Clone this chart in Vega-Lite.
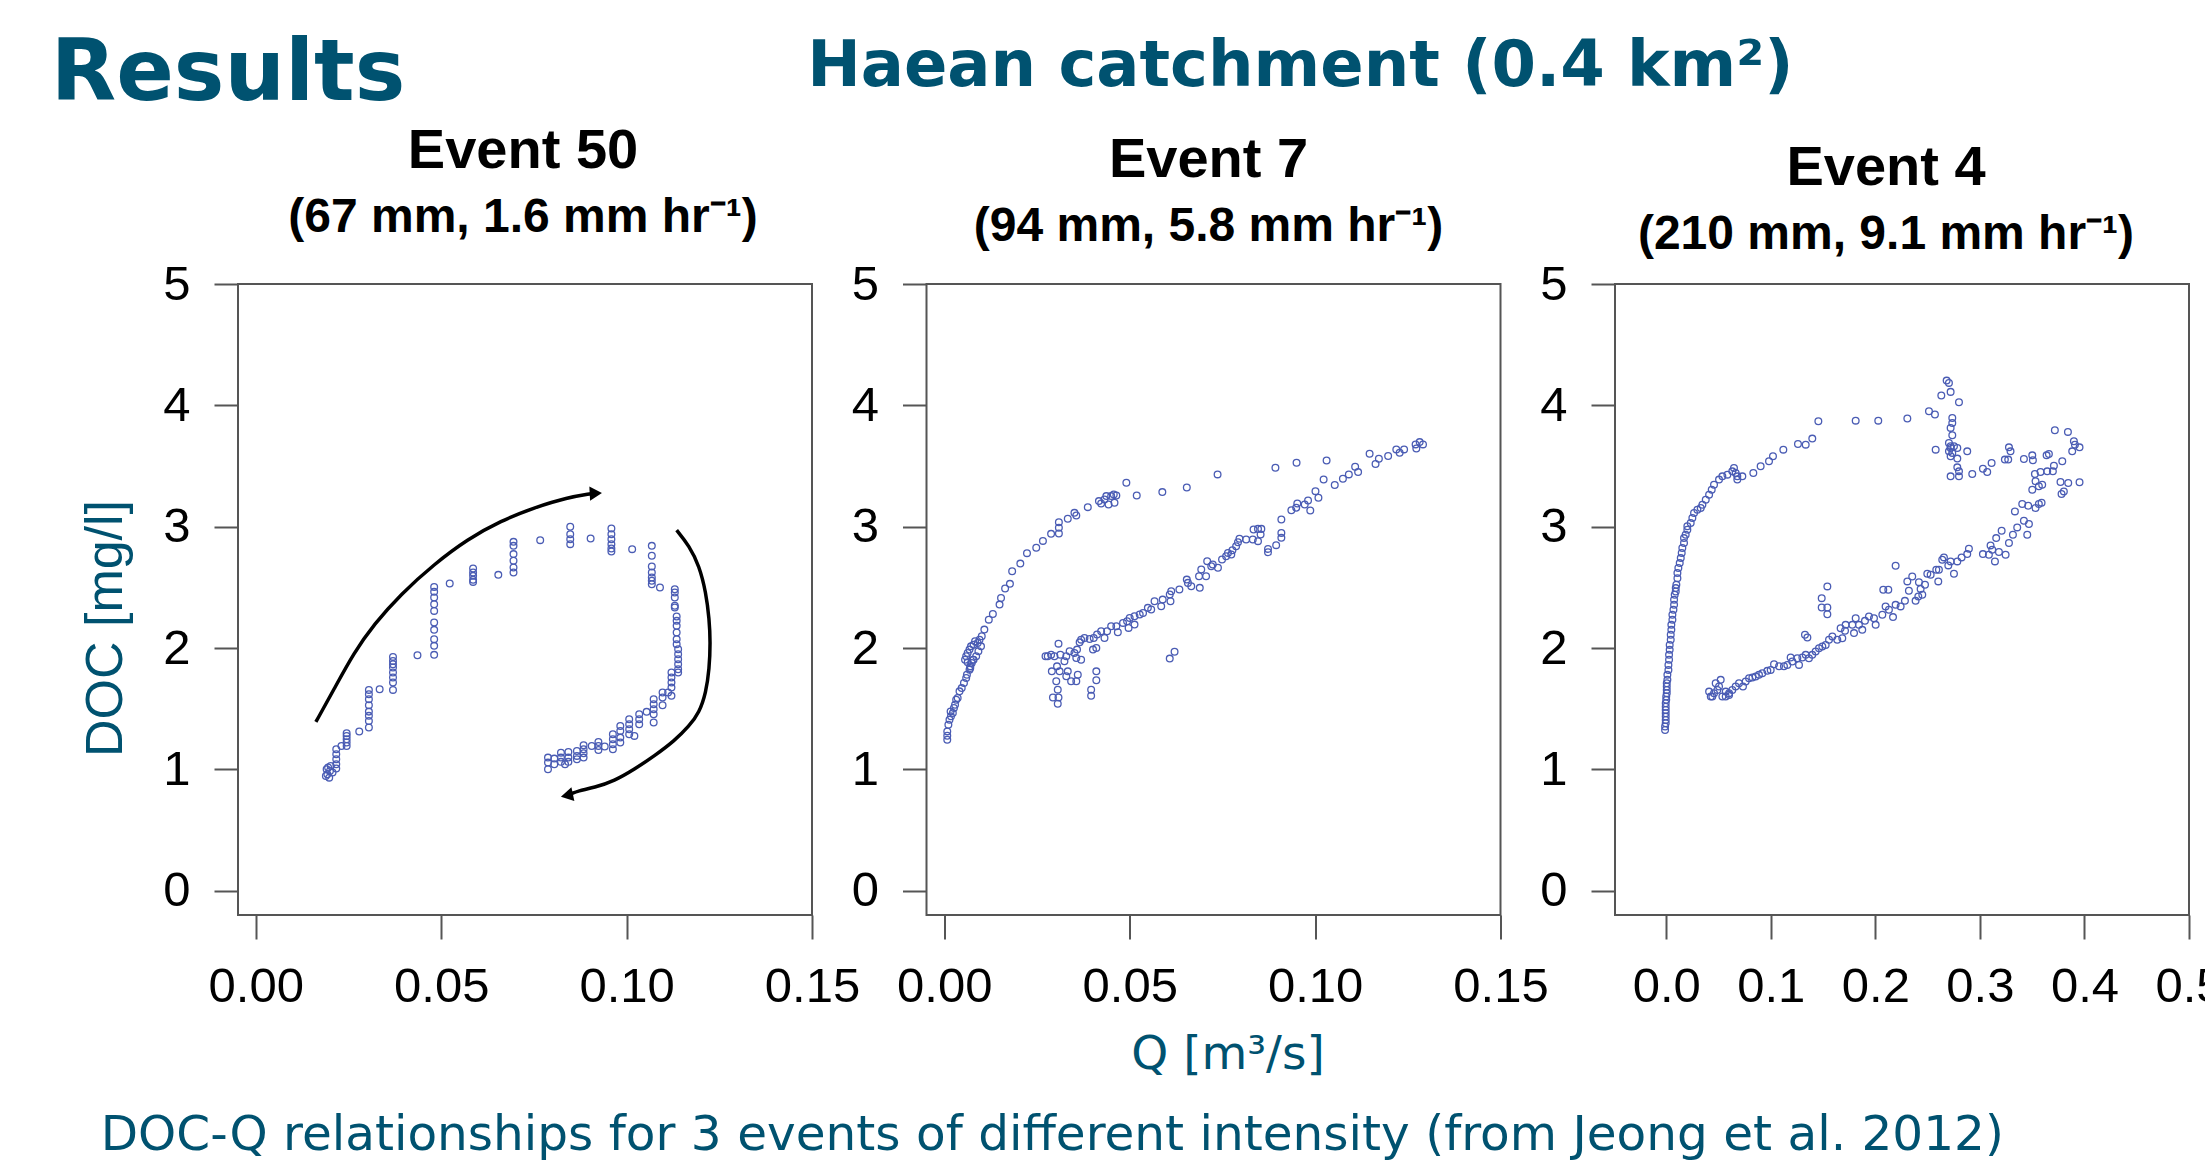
{
"$schema": "https://vega.github.io/schema/vega-lite/v6.json",
"background": "white",
"padding": {"left": 50, "top": 32, "right": 0, "bottom": 0},
"autosize": {"type": "pad"},
"config": {
  "view": {"stroke": "#555555", "strokeWidth": 2},
  "axis": {"domain": false, "grid": false, "ticks": true, "tickColor": "#555555", "tickWidth": 2, "tickSize": 24, "labelFont": "Liberation Sans", "labelFontSize": 49, "labelColor": "#000000", "labelOverlap": false, "labelBound": false},
  "axisX": {"labelFlush": false, "labelPadding": 23, "titlePadding": 20},
  "axisY": {"labelPadding": 24},
  "title": {"font": "Liberation Sans", "fontSize": 56, "fontWeight": "bold", "color": "#000000", "subtitleFont": "Liberation Sans", "subtitleFontSize": 48, "subtitleFontWeight": "bold", "subtitleColor": "#000000", "subtitlePadding": 14, "anchor": "middle", "frame": "group"}
},
"datasets": {
"e50": [
{"Q":0.0189,"DOC":0.946},{"Q":0.0193,"DOC":0.960},{"Q":0.0198,"DOC":0.932},{"Q":0.0191,"DOC":1.001},{"Q":0.0195,"DOC":1.015},{"Q":0.0202,"DOC":1.028},{"Q":0.0200,"DOC":0.987},{"Q":0.0207,"DOC":0.974},
{"Q":0.0217,"DOC":1.166},{"Q":0.0217,"DOC":1.125},{"Q":0.0217,"DOC":1.083},{"Q":0.0217,"DOC":1.042},{"Q":0.0217,"DOC":1.007},
{"Q":0.0231,"DOC":1.193},
{"Q":0.0245,"DOC":1.298},{"Q":0.0245,"DOC":1.276},{"Q":0.0245,"DOC":1.248},{"Q":0.0245,"DOC":1.221},{"Q":0.0245,"DOC":1.193},
{"Q":0.0279,"DOC":1.312},
{"Q":0.0305,"DOC":1.655},{"Q":0.0305,"DOC":1.619},{"Q":0.0305,"DOC":1.578},{"Q":0.0305,"DOC":1.529},{"Q":0.0305,"DOC":1.476},{"Q":0.0305,"DOC":1.441},{"Q":0.0305,"DOC":1.399},{"Q":0.0305,"DOC":1.345},
{"Q":0.0334,"DOC":1.661},
{"Q":0.0370,"DOC":1.927},{"Q":0.0370,"DOC":1.894},{"Q":0.0370,"DOC":1.867},{"Q":0.0370,"DOC":1.839},{"Q":0.0370,"DOC":1.798},{"Q":0.0370,"DOC":1.757},{"Q":0.0370,"DOC":1.716},{"Q":0.0370,"DOC":1.655},
{"Q":0.0436,"DOC":1.941},
{"Q":0.0481,"DOC":2.504},{"Q":0.0481,"DOC":2.463},{"Q":0.0481,"DOC":2.416},{"Q":0.0481,"DOC":2.361},{"Q":0.0481,"DOC":2.306},{"Q":0.0481,"DOC":2.210},{"Q":0.0481,"DOC":2.150},{"Q":0.0481,"DOC":2.073},{"Q":0.0481,"DOC":2.018},{"Q":0.0481,"DOC":1.944},
{"Q":0.0523,"DOC":2.532},
{"Q":0.0586,"DOC":2.655},{"Q":0.0586,"DOC":2.622},{"Q":0.0586,"DOC":2.595},{"Q":0.0586,"DOC":2.562},{"Q":0.0586,"DOC":2.545},
{"Q":0.0654,"DOC":2.603},
{"Q":0.0695,"DOC":2.875},{"Q":0.0695,"DOC":2.842},{"Q":0.0695,"DOC":2.774},{"Q":0.0695,"DOC":2.719},{"Q":0.0695,"DOC":2.664},{"Q":0.0695,"DOC":2.622},
{"Q":0.0767,"DOC":2.889},
{"Q":0.0848,"DOC":2.999},{"Q":0.0848,"DOC":2.938},{"Q":0.0848,"DOC":2.897},{"Q":0.0848,"DOC":2.856},
{"Q":0.0903,"DOC":2.903},
{"Q":0.0959,"DOC":2.985},{"Q":0.0959,"DOC":2.938},{"Q":0.0959,"DOC":2.897},{"Q":0.0959,"DOC":2.856},{"Q":0.0959,"DOC":2.820},{"Q":0.0959,"DOC":2.795},
{"Q":0.1015,"DOC":2.815},
{"Q":0.1068,"DOC":2.842},{"Q":0.1068,"DOC":2.760},{"Q":0.1068,"DOC":2.672},{"Q":0.1068,"DOC":2.622},{"Q":0.1068,"DOC":2.581},{"Q":0.1068,"DOC":2.554},{"Q":0.1068,"DOC":2.526},
{"Q":0.1090,"DOC":2.499},
{"Q":0.1130,"DOC":2.485},{"Q":0.1130,"DOC":2.458},{"Q":0.1130,"DOC":2.416},{"Q":0.1130,"DOC":2.348},{"Q":0.1130,"DOC":2.334},
{"Q":0.1135,"DOC":2.260},{"Q":0.1135,"DOC":2.224},{"Q":0.1135,"DOC":2.183},{"Q":0.1135,"DOC":2.128},{"Q":0.1135,"DOC":2.073},{"Q":0.1135,"DOC":2.032},
{"Q":0.1139,"DOC":1.990},{"Q":0.1139,"DOC":1.949},{"Q":0.1139,"DOC":1.908},{"Q":0.1139,"DOC":1.867},{"Q":0.1139,"DOC":1.825},{"Q":0.1139,"DOC":1.798},
{"Q":0.1121,"DOC":1.798},{"Q":0.1121,"DOC":1.757},{"Q":0.1121,"DOC":1.716},{"Q":0.1121,"DOC":1.674},{"Q":0.1121,"DOC":1.606},
{"Q":0.1112,"DOC":1.633},
{"Q":0.1097,"DOC":1.633},{"Q":0.1097,"DOC":1.592},{"Q":0.1097,"DOC":1.529},
{"Q":0.1073,"DOC":1.578},{"Q":0.1073,"DOC":1.537},{"Q":0.1073,"DOC":1.496},{"Q":0.1073,"DOC":1.455},{"Q":0.1073,"DOC":1.386},
{"Q":0.1054,"DOC":1.474},
{"Q":0.1034,"DOC":1.455},{"Q":0.1034,"DOC":1.413},{"Q":0.1034,"DOC":1.372},
{"Q":0.1021,"DOC":1.276},
{"Q":0.1007,"DOC":1.413},{"Q":0.1007,"DOC":1.372},{"Q":0.1007,"DOC":1.331},{"Q":0.1007,"DOC":1.290},
{"Q":0.0983,"DOC":1.358},{"Q":0.0983,"DOC":1.317},{"Q":0.0983,"DOC":1.262},{"Q":0.0983,"DOC":1.221},
{"Q":0.0963,"DOC":1.290},{"Q":0.0963,"DOC":1.248},{"Q":0.0963,"DOC":1.207},{"Q":0.0963,"DOC":1.166},
{"Q":0.0941,"DOC":1.188},
{"Q":0.0924,"DOC":1.226},{"Q":0.0924,"DOC":1.193},{"Q":0.0924,"DOC":1.160},
{"Q":0.0906,"DOC":1.193},
{"Q":0.0884,"DOC":1.199},{"Q":0.0884,"DOC":1.166},{"Q":0.0884,"DOC":1.133},{"Q":0.0884,"DOC":1.097},
{"Q":0.0866,"DOC":1.152},{"Q":0.0866,"DOC":1.111},{"Q":0.0866,"DOC":1.083},
{"Q":0.0843,"DOC":1.144},{"Q":0.0843,"DOC":1.097},{"Q":0.0843,"DOC":1.062},
{"Q":0.0834,"DOC":1.042},
{"Q":0.0823,"DOC":1.138},{"Q":0.0823,"DOC":1.097},{"Q":0.0823,"DOC":1.062},
{"Q":0.0805,"DOC":1.042},{"Q":0.0805,"DOC":1.089},
{"Q":0.0788,"DOC":1.097},{"Q":0.0788,"DOC":1.056},{"Q":0.0788,"DOC":1.001}
],
"arrows": [
{"arrow":1,"i":0,"Q":0.0162,"DOC":1.391},{"arrow":1,"i":1,"Q":0.0211,"DOC":1.661},{"arrow":1,"i":2,"Q":0.0265,"DOC":1.963},{"arrow":1,"i":3,"Q":0.0319,"DOC":2.196},{"arrow":1,"i":4,"Q":0.0391,"DOC":2.444},{"arrow":1,"i":5,"Q":0.0481,"DOC":2.691},{"arrow":1,"i":6,"Q":0.0571,"DOC":2.897},{"arrow":1,"i":7,"Q":0.0661,"DOC":3.048},{"arrow":1,"i":8,"Q":0.0751,"DOC":3.158},{"arrow":1,"i":9,"Q":0.0841,"DOC":3.241},{"arrow":1,"i":10,"Q":0.0905,"DOC":3.272},
{"arrow":2,"i":0,"Q":0.1135,"DOC":2.971},{"arrow":2,"i":1,"Q":0.1169,"DOC":2.842},{"arrow":2,"i":2,"Q":0.1196,"DOC":2.677},{"arrow":2,"i":3,"Q":0.1214,"DOC":2.458},{"arrow":2,"i":4,"Q":0.1223,"DOC":2.238},{"arrow":2,"i":5,"Q":0.1226,"DOC":2.045},{"arrow":2,"i":6,"Q":0.1223,"DOC":1.825},{"arrow":2,"i":7,"Q":0.1214,"DOC":1.633},{"arrow":2,"i":8,"Q":0.1196,"DOC":1.468},{"arrow":2,"i":9,"Q":0.1169,"DOC":1.358},{"arrow":2,"i":10,"Q":0.1129,"DOC":1.235},{"arrow":2,"i":11,"Q":0.1075,"DOC":1.111},{"arrow":2,"i":12,"Q":0.1021,"DOC":1.001},{"arrow":2,"i":13,"Q":0.0967,"DOC":0.905},{"arrow":2,"i":14,"Q":0.0913,"DOC":0.850},{"arrow":2,"i":15,"Q":0.0868,"DOC":0.822},{"arrow":2,"i":16,"Q":0.0852,"DOC":0.800}
],
"heads": [{"arrow":1,"Q":0.0917,"DOC":3.275},{"arrow":2,"Q":0.0839,"DOC":0.785}],
"e7": [
{"Q":0.0008,"DOC":1.244},{"Q":0.0008,"DOC":1.277},{"Q":0.0008,"DOC":1.313},{"Q":0.0011,"DOC":1.368},{"Q":0.0014,"DOC":1.409},{"Q":0.0018,"DOC":1.437},{"Q":0.0017,"DOC":1.478},{"Q":0.0023,"DOC":1.464},{"Q":0.0026,"DOC":1.506},{"Q":0.0029,"DOC":1.533},{"Q":0.0032,"DOC":1.574},{"Q":0.0036,"DOC":1.588},{"Q":0.0041,"DOC":1.643},{"Q":0.0047,"DOC":1.670},{"Q":0.0053,"DOC":1.712},{"Q":0.0059,"DOC":1.753},{"Q":0.0061,"DOC":1.780},{"Q":0.0068,"DOC":1.822},{"Q":0.0070,"DOC":1.849},{"Q":0.0074,"DOC":1.877},{"Q":0.0077,"DOC":1.904},{"Q":0.0059,"DOC":1.932},{"Q":0.0063,"DOC":1.959},{"Q":0.0068,"DOC":1.987},{"Q":0.0072,"DOC":2.014},{"Q":0.0079,"DOC":2.028},{"Q":0.0083,"DOC":2.056},{"Q":0.0090,"DOC":2.042},{"Q":0.0095,"DOC":2.069},{"Q":0.0099,"DOC":2.014},{"Q":0.0092,"DOC":1.973},{"Q":0.0079,"DOC":1.904},{"Q":0.0086,"DOC":1.932},{"Q":0.0056,"DOC":1.904},{"Q":0.0063,"DOC":1.882},{"Q":0.0070,"DOC":1.836},
{"Q":0.0101,"DOC":2.097},{"Q":0.0108,"DOC":2.152},{"Q":0.0120,"DOC":2.234},{"Q":0.0131,"DOC":2.281},{"Q":0.0149,"DOC":2.358},{"Q":0.0153,"DOC":2.413},{"Q":0.0164,"DOC":2.490},{"Q":0.0177,"DOC":2.529},{"Q":0.0183,"DOC":2.633},{"Q":0.0205,"DOC":2.696},{"Q":0.0223,"DOC":2.782},{"Q":0.0248,"DOC":2.826},{"Q":0.0266,"DOC":2.883},{"Q":0.0288,"DOC":2.941},{"Q":0.0309,"DOC":2.944},{"Q":0.0309,"DOC":2.991},{"Q":0.0309,"DOC":3.037},{"Q":0.0333,"DOC":3.065},{"Q":0.0351,"DOC":3.114},{"Q":0.0356,"DOC":3.092},{"Q":0.0387,"DOC":3.161},{"Q":0.0417,"DOC":3.211},{"Q":0.0423,"DOC":3.191},{"Q":0.0432,"DOC":3.224},{"Q":0.0437,"DOC":3.252},{"Q":0.0443,"DOC":3.183},{"Q":0.0450,"DOC":3.252},{"Q":0.0459,"DOC":3.197},{"Q":0.0464,"DOC":3.257},{"Q":0.0457,"DOC":3.266},{"Q":0.0491,"DOC":3.362},{"Q":0.0519,"DOC":3.257},{"Q":0.0588,"DOC":3.285},{"Q":0.0654,"DOC":3.323},{"Q":0.0737,"DOC":3.431},{"Q":0.0893,"DOC":3.486},{"Q":0.0950,"DOC":3.527},{"Q":0.1031,"DOC":3.546},{"Q":0.1147,"DOC":3.601},{"Q":0.1172,"DOC":3.560},{"Q":0.1163,"DOC":3.516},{"Q":0.1197,"DOC":3.582},{"Q":0.1219,"DOC":3.637},{"Q":0.1228,"DOC":3.609},{"Q":0.1240,"DOC":3.637},{"Q":0.1271,"DOC":3.678},{"Q":0.1282,"DOC":3.697},{"Q":0.1291,"DOC":3.678},{"Q":0.1273,"DOC":3.645},
{"Q":0.1116,"DOC":3.450},{"Q":0.1108,"DOC":3.494},{"Q":0.1091,"DOC":3.431},{"Q":0.1075,"DOC":3.395},{"Q":0.1053,"DOC":3.343},{"Q":0.1023,"DOC":3.389},{"Q":0.1009,"DOC":3.238},{"Q":0.1001,"DOC":3.293},{"Q":0.0987,"DOC":3.134},{"Q":0.0981,"DOC":3.216},{"Q":0.0972,"DOC":3.183},{"Q":0.0952,"DOC":3.191},{"Q":0.0949,"DOC":3.156},{"Q":0.0936,"DOC":3.136},{"Q":0.0909,"DOC":3.059},{"Q":0.0909,"DOC":2.949},{"Q":0.0909,"DOC":2.908},{"Q":0.0895,"DOC":2.848},{"Q":0.0873,"DOC":2.817},{"Q":0.0873,"DOC":2.790},{"Q":0.0855,"DOC":2.982},{"Q":0.0853,"DOC":2.936},{"Q":0.0846,"DOC":2.982},{"Q":0.0834,"DOC":2.977},{"Q":0.0846,"DOC":2.881},{"Q":0.0832,"DOC":2.894},{"Q":0.0814,"DOC":2.894},{"Q":0.0796,"DOC":2.900},{"Q":0.0792,"DOC":2.872},{"Q":0.0787,"DOC":2.839},{"Q":0.0777,"DOC":2.806},{"Q":0.0774,"DOC":2.771},{"Q":0.0765,"DOC":2.784},{"Q":0.0760,"DOC":2.757},{"Q":0.0749,"DOC":2.729},{"Q":0.0738,"DOC":2.661},{"Q":0.0724,"DOC":2.688},{"Q":0.0709,"DOC":2.716},{"Q":0.0720,"DOC":2.674},{"Q":0.0706,"DOC":2.592},{"Q":0.0693,"DOC":2.647},{"Q":0.0687,"DOC":2.592},{"Q":0.0689,"DOC":2.496},{"Q":0.0666,"DOC":2.509},{"Q":0.0654,"DOC":2.564},{"Q":0.0657,"DOC":2.537},{"Q":0.0634,"DOC":2.482},{"Q":0.0612,"DOC":2.468},{"Q":0.0608,"DOC":2.441},{"Q":0.0610,"DOC":2.386},{"Q":0.0589,"DOC":2.399},{"Q":0.0585,"DOC":2.344},{"Q":0.0567,"DOC":2.386},{"Q":0.0558,"DOC":2.317},{"Q":0.0549,"DOC":2.331},{"Q":0.0536,"DOC":2.289},{"Q":0.0527,"DOC":2.276},{"Q":0.0513,"DOC":2.262},{"Q":0.0500,"DOC":2.248},{"Q":0.0493,"DOC":2.221},{"Q":0.0513,"DOC":2.193},{"Q":0.0497,"DOC":2.166},{"Q":0.0482,"DOC":2.207},{"Q":0.0468,"DOC":2.130},{"Q":0.0464,"DOC":2.179},{"Q":0.0450,"DOC":2.179},{"Q":0.0439,"DOC":2.138},{"Q":0.0432,"DOC":2.083},{"Q":0.0423,"DOC":2.138},{"Q":0.0412,"DOC":2.111},{"Q":0.0403,"DOC":2.083},{"Q":0.0392,"DOC":2.075},{"Q":0.0378,"DOC":2.083},{"Q":0.0369,"DOC":2.069},{"Q":0.0365,"DOC":2.047},{"Q":0.0410,"DOC":2.001},{"Q":0.0401,"DOC":1.987},{"Q":0.0369,"DOC":1.904},{"Q":0.0356,"DOC":1.918},{"Q":0.0358,"DOC":1.987},{"Q":0.0351,"DOC":1.959},{"Q":0.0338,"DOC":1.973},{"Q":0.0329,"DOC":1.932},{"Q":0.0324,"DOC":1.891},{"Q":0.0313,"DOC":1.945},{"Q":0.0308,"DOC":2.036},{"Q":0.0297,"DOC":1.932},{"Q":0.0288,"DOC":1.945},{"Q":0.0279,"DOC":1.932},{"Q":0.0273,"DOC":1.932},{"Q":0.0304,"DOC":1.849},{"Q":0.0290,"DOC":1.808},{"Q":0.0311,"DOC":1.808},{"Q":0.0329,"DOC":1.767},{"Q":0.0333,"DOC":1.808},{"Q":0.0342,"DOC":1.726},{"Q":0.0356,"DOC":1.726},{"Q":0.0360,"DOC":1.780},{"Q":0.0410,"DOC":1.808},{"Q":0.0410,"DOC":1.734},{"Q":0.0302,"DOC":1.726},{"Q":0.0306,"DOC":1.657},{"Q":0.0293,"DOC":1.593},{"Q":0.0308,"DOC":1.593},{"Q":0.0306,"DOC":1.541},{"Q":0.0396,"DOC":1.657},{"Q":0.0396,"DOC":1.607},{"Q":0.0608,"DOC":1.913},{"Q":0.0621,"DOC":1.970}
],
"e4": [
{"Q":-0.0011,"DOC":1.325},{"Q":-0.0011,"DOC":1.353},{"Q":-0.0005,"DOC":1.380},{"Q":-0.0005,"DOC":1.407},{"Q":-0.0005,"DOC":1.435},{"Q":-0.0005,"DOC":1.462},{"Q":-0.0005,"DOC":1.490},{"Q":-0.0005,"DOC":1.517},{"Q":-0.0005,"DOC":1.545},{"Q":0.0000,"DOC":1.573},{"Q":0.0000,"DOC":1.600},{"Q":0.0005,"DOC":1.628},{"Q":0.0005,"DOC":1.655},{"Q":0.0005,"DOC":1.683},{"Q":0.0005,"DOC":1.710},{"Q":0.0011,"DOC":1.738},{"Q":0.0011,"DOC":1.779},{"Q":0.0021,"DOC":1.820},{"Q":0.0021,"DOC":1.861},{"Q":0.0027,"DOC":1.903},{"Q":0.0027,"DOC":1.944},{"Q":0.0033,"DOC":1.985},{"Q":0.0033,"DOC":2.026},{"Q":0.0043,"DOC":2.068},{"Q":0.0043,"DOC":2.109},{"Q":0.0049,"DOC":2.150},{"Q":0.0049,"DOC":2.191},{"Q":0.0059,"DOC":2.233},{"Q":0.0059,"DOC":2.274},{"Q":0.0069,"DOC":2.315},{"Q":0.0075,"DOC":2.356},{"Q":0.0075,"DOC":2.398},{"Q":0.0081,"DOC":2.439},{"Q":0.0091,"DOC":2.466},{"Q":0.0091,"DOC":2.494},{"Q":0.0097,"DOC":2.521},{"Q":0.0107,"DOC":2.576},{"Q":0.0107,"DOC":2.618},{"Q":0.0116,"DOC":2.659},{"Q":0.0129,"DOC":2.700},{"Q":0.0139,"DOC":2.741},{"Q":0.0148,"DOC":2.783},{"Q":0.0154,"DOC":2.824},{"Q":0.0170,"DOC":2.865},{"Q":0.0170,"DOC":2.906},{"Q":0.0186,"DOC":2.934},{"Q":0.0202,"DOC":2.975},{"Q":0.0202,"DOC":3.003},{"Q":0.0234,"DOC":3.030},{"Q":0.0250,"DOC":3.071},{"Q":0.0266,"DOC":3.113},{"Q":0.0298,"DOC":3.140},{"Q":0.0330,"DOC":3.154},{"Q":0.0346,"DOC":3.181},{"Q":0.0378,"DOC":3.223},{"Q":0.0410,"DOC":3.264},{"Q":0.0435,"DOC":3.305},{"Q":0.0457,"DOC":3.346},{"Q":0.0505,"DOC":3.388},{"Q":0.0537,"DOC":3.415},{"Q":0.0585,"DOC":3.429},{"Q":0.0632,"DOC":3.456},{"Q":0.0648,"DOC":3.484},{"Q":0.0664,"DOC":3.443},{"Q":0.0680,"DOC":3.415},{"Q":0.0680,"DOC":3.388},{"Q":0.0728,"DOC":3.415},{"Q":0.0833,"DOC":3.443},{"Q":0.0903,"DOC":3.498},{"Q":0.0983,"DOC":3.539},{"Q":0.1021,"DOC":3.580},{"Q":0.1120,"DOC":3.635},{"Q":0.1260,"DOC":3.682},{"Q":0.1334,"DOC":3.676},{"Q":0.1397,"DOC":3.726},{"Q":0.1455,"DOC":3.869},{"Q":0.1812,"DOC":3.874},{"Q":0.2028,"DOC":3.874},{"Q":0.2306,"DOC":3.891},{"Q":0.2513,"DOC":3.951},{"Q":0.2570,"DOC":3.924},{"Q":0.2631,"DOC":4.081},{"Q":0.2720,"DOC":4.111},{"Q":0.2682,"DOC":4.204},{"Q":0.2704,"DOC":4.185},{"Q":0.2800,"DOC":4.026},
{"Q":0.2736,"DOC":3.896},{"Q":0.2736,"DOC":3.855},{"Q":0.2720,"DOC":3.814},{"Q":0.2736,"DOC":3.753},{"Q":0.2704,"DOC":3.690},{"Q":0.2720,"DOC":3.663},{"Q":0.2704,"DOC":3.621},{"Q":0.2736,"DOC":3.608},{"Q":0.2720,"DOC":3.580},{"Q":0.2784,"DOC":3.561},{"Q":0.2784,"DOC":3.489},{"Q":0.2800,"DOC":3.456},{"Q":0.2720,"DOC":3.415},{"Q":0.2800,"DOC":3.415},{"Q":0.2577,"DOC":3.635},{"Q":0.2879,"DOC":3.621},{"Q":0.2784,"DOC":3.649},{"Q":0.2720,"DOC":3.649},{"Q":0.2752,"DOC":3.663},
{"Q":0.2927,"DOC":3.434},{"Q":0.3029,"DOC":3.478},{"Q":0.3070,"DOC":3.451},{"Q":0.3112,"DOC":3.525},{"Q":0.3239,"DOC":3.553},{"Q":0.3271,"DOC":3.553},{"Q":0.3278,"DOC":3.654},{"Q":0.3293,"DOC":3.621},{"Q":0.3421,"DOC":3.558},{"Q":0.3501,"DOC":3.588},{"Q":0.3507,"DOC":3.547},{"Q":0.3638,"DOC":3.588},{"Q":0.3660,"DOC":3.599},{"Q":0.3717,"DOC":3.795},{"Q":0.3842,"DOC":3.781},{"Q":0.3899,"DOC":3.704},{"Q":0.3909,"DOC":3.676},{"Q":0.3953,"DOC":3.654},{"Q":0.3883,"DOC":3.621},{"Q":0.3788,"DOC":3.539},{"Q":0.3708,"DOC":3.503},{"Q":0.3698,"DOC":3.456},{"Q":0.3644,"DOC":3.456},{"Q":0.3580,"DOC":3.451},{"Q":0.3526,"DOC":3.434},{"Q":0.3532,"DOC":3.374},{"Q":0.3501,"DOC":3.305},{"Q":0.3564,"DOC":3.333},{"Q":0.3596,"DOC":3.346},{"Q":0.3771,"DOC":3.368},{"Q":0.3845,"DOC":3.360},{"Q":0.3953,"DOC":3.366},{"Q":0.3803,"DOC":3.291},{"Q":0.3781,"DOC":3.269},{"Q":0.3590,"DOC":3.198},{"Q":0.3564,"DOC":3.187},{"Q":0.3532,"DOC":3.154},{"Q":0.3462,"DOC":3.173},{"Q":0.3405,"DOC":3.187},{"Q":0.3335,"DOC":3.126},{"Q":0.3421,"DOC":3.049},{"Q":0.3469,"DOC":3.022},{"Q":0.3453,"DOC":2.934},{"Q":0.3357,"DOC":2.994},{"Q":0.3316,"DOC":2.934},{"Q":0.3278,"DOC":2.865},{"Q":0.3208,"DOC":2.967},{"Q":0.3156,"DOC":2.906},{"Q":0.3102,"DOC":2.846},{"Q":0.3118,"DOC":2.810},{"Q":0.3182,"DOC":2.791},{"Q":0.3144,"DOC":2.714},{"Q":0.3246,"DOC":2.769},{"Q":0.3086,"DOC":2.769},{"Q":0.3029,"DOC":2.774},{"Q":0.2895,"DOC":2.818},{"Q":0.2879,"DOC":2.774},{"Q":0.2825,"DOC":2.747},{"Q":0.2784,"DOC":2.714},{"Q":0.2752,"DOC":2.612},{"Q":0.2720,"DOC":2.714},{"Q":0.2698,"DOC":2.681},{"Q":0.2656,"DOC":2.747},{"Q":0.2640,"DOC":2.728},{"Q":0.2608,"DOC":2.645},{"Q":0.2602,"DOC":2.549},{"Q":0.2583,"DOC":2.645},{"Q":0.2529,"DOC":2.604},{"Q":0.2497,"DOC":2.612},{"Q":0.2475,"DOC":2.521},{"Q":0.2449,"DOC":2.439},{"Q":0.2433,"DOC":2.486},{"Q":0.2417,"DOC":2.543},{"Q":0.2411,"DOC":2.425},{"Q":0.2385,"DOC":2.389},{"Q":0.2353,"DOC":2.590},{"Q":0.2321,"DOC":2.472},{"Q":0.2306,"DOC":2.549},{"Q":0.2283,"DOC":2.389},{"Q":0.2242,"DOC":2.343},{"Q":0.2194,"DOC":2.356},{"Q":0.2169,"DOC":2.255},{"Q":0.2130,"DOC":2.315},{"Q":0.2098,"DOC":2.343},{"Q":0.2067,"DOC":2.274},{"Q":0.2003,"DOC":2.191},{"Q":0.1987,"DOC":2.246},{"Q":0.1939,"DOC":2.260},{"Q":0.1901,"DOC":2.224},{"Q":0.1875,"DOC":2.150},{"Q":0.1843,"DOC":2.191},{"Q":0.1812,"DOC":2.246},{"Q":0.1796,"DOC":2.123},{"Q":0.1780,"DOC":2.191},{"Q":0.1716,"DOC":2.191},{"Q":0.1710,"DOC":2.142},{"Q":0.1684,"DOC":2.081},{"Q":0.1668,"DOC":2.164},{"Q":0.1636,"DOC":2.068},{"Q":0.1589,"DOC":2.095},{"Q":0.1557,"DOC":2.068},{"Q":0.1525,"DOC":2.026},{"Q":0.1493,"DOC":2.013},{"Q":0.1461,"DOC":1.999},{"Q":0.1429,"DOC":1.971},{"Q":0.1397,"DOC":1.944},{"Q":0.1365,"DOC":1.916},{"Q":0.1334,"DOC":1.944},{"Q":0.1302,"DOC":1.922},{"Q":0.1270,"DOC":1.861},{"Q":0.1254,"DOC":1.916},{"Q":0.1206,"DOC":1.889},{"Q":0.1190,"DOC":1.922},{"Q":0.1158,"DOC":1.861},{"Q":0.1126,"DOC":1.850},{"Q":0.1079,"DOC":1.850},{"Q":0.1031,"DOC":1.867},{"Q":0.0999,"DOC":1.820},{"Q":0.0967,"DOC":1.812},{"Q":0.0919,"DOC":1.793},{"Q":0.0887,"DOC":1.779},{"Q":0.0856,"DOC":1.765},{"Q":0.0824,"DOC":1.757},{"Q":0.0792,"DOC":1.751},{"Q":0.0760,"DOC":1.724},{"Q":0.0734,"DOC":1.683},{"Q":0.0696,"DOC":1.710},{"Q":0.0664,"DOC":1.683},{"Q":0.0632,"DOC":1.655},{"Q":0.0601,"DOC":1.628},{"Q":0.0569,"DOC":1.641},{"Q":0.0537,"DOC":1.600},{"Q":0.0521,"DOC":1.738},{"Q":0.0505,"DOC":1.683},{"Q":0.0489,"DOC":1.655},{"Q":0.0473,"DOC":1.710},{"Q":0.0457,"DOC":1.628},{"Q":0.0441,"DOC":1.600},{"Q":0.0426,"DOC":1.600},{"Q":0.0410,"DOC":1.641},{"Q":0.0569,"DOC":1.600},{"Q":0.0601,"DOC":1.614},
{"Q":0.1541,"DOC":2.508},{"Q":0.1487,"DOC":2.411},{"Q":0.1487,"DOC":2.334},{"Q":0.1541,"DOC":2.334},{"Q":0.1541,"DOC":2.279},{"Q":0.1327,"DOC":2.109},{"Q":0.1350,"DOC":2.087},{"Q":0.2076,"DOC":2.480},{"Q":0.2124,"DOC":2.480},{"Q":0.2194,"DOC":2.678}
]
},
"title": {"text": "Results", "anchor": "start", "frame": "bounds", "offset": 0, "dx": -28, "dy": 83, "font": "DejaVu Sans", "fontSize": 85, "fontWeight": "bold", "color": "#005270"},
"vconcat": [{
  "title": {"text": "Haean catchment (0.4 km²)", "anchor": "middle", "frame": "bounds", "offset": 23, "dx": 149, "font": "DejaVu Sans", "fontSize": 64, "fontWeight": "bold", "color": "#005270"},
  "vconcat": [{
    "title": {"text": "DOC-Q relationships for 3 events of different intensity (from Jeong et al. 2012)", "orient": "bottom", "anchor": "start", "frame": "bounds", "offset": 34, "dx": 22, "font": "DejaVu Sans", "fontSize": 48.5, "fontWeight": "normal", "color": "#005270"},
    "spacing": 114.5,
    "bounds": "flush",
    "hconcat": [
      {
        "width": 574, "height": 631,
        "title": {"text": "Event 50", "subtitle": "(67 mm, 1.6 mm hr⁻¹)", "offset": 17, "dx": -2},
        "encoding": {
          "x": {"field": "Q", "type": "quantitative", "scale": {"domain": [-0.0048, 0.15], "nice": false, "zero": false}, "axis": {"values": [0, 0.05, 0.1, 0.15], "format": ".2f", "title": null}},
          "y": {"field": "DOC", "type": "quantitative", "scale": {"domain": [-0.2, 5], "nice": false, "zero": false}, "axis": {"values": [0, 1, 2, 3, 4, 5], "format": "d", "title": "DOC [mg/l]", "titleFont": "Liberation Sans", "titleFontSize": 52, "titleFontWeight": "normal", "titleColor": "#005270", "titlePadding": 30, "titleY": 344}}
        },
        "layer": [
          {"data": {"name": "e50"}, "mark": {"type": "point", "shape": "circle", "filled": false, "size": 45, "strokeWidth": 1.3, "color": "#4a5cb4", "opacity": 1}},
          {"data": {"name": "arrows"}, "mark": {"type": "line", "interpolate": "basis", "color": "#000000", "strokeWidth": 3.5}, "encoding": {"detail": {"field": "arrow", "type": "nominal"}, "order": {"field": "i", "type": "quantitative"}}},
          {"data": {"name": "heads"}, "transform": [{"filter": "datum.arrow == 1"}], "mark": {"type": "point", "shape": "triangle-right", "filled": true, "color": "#000000", "size": 200, "angle": 357, "opacity": 1}},
          {"data": {"name": "heads"}, "transform": [{"filter": "datum.arrow == 2"}], "mark": {"type": "point", "shape": "triangle-left", "filled": true, "color": "#000000", "size": 200, "angle": 348, "opacity": 1}}
        ]
      },
      {
        "width": 574, "height": 631,
        "title": {"text": "Event 7", "subtitle": "(94 mm, 5.8 mm hr⁻¹)", "offset": 8.5, "dx": -5},
        "data": {"name": "e7"},
        "mark": {"type": "point", "shape": "circle", "filled": false, "size": 45, "strokeWidth": 1.3, "color": "#4a5cb4", "opacity": 1},
        "encoding": {
          "x": {"field": "Q", "type": "quantitative", "scale": {"domain": [-0.0048, 0.15], "nice": false, "zero": false}, "axis": {"values": [0, 0.05, 0.1, 0.15], "format": ".2f", "title": "Q [m³/s]", "titleFont": "DejaVu Sans", "titleFontSize": 47, "titleFontWeight": "normal", "titleColor": "#005270", "titleX": 301}},
          "y": {"field": "DOC", "type": "quantitative", "scale": {"domain": [-0.2, 5], "nice": false, "zero": false}, "axis": {"values": [0, 1, 2, 3, 4, 5], "format": "d", "title": null}}
        }
      },
      {
        "width": 574, "height": 631,
        "title": {"text": "Event 4", "subtitle": "(210 mm, 9.1 mm hr⁻¹)", "offset": 0, "dx": -16},
        "data": {"name": "e4"},
        "mark": {"type": "point", "shape": "circle", "filled": false, "size": 45, "strokeWidth": 1.3, "color": "#4a5cb4", "opacity": 1},
        "encoding": {
          "x": {"field": "Q", "type": "quantitative", "scale": {"domain": [-0.049, 0.5], "nice": false, "zero": false}, "axis": {"values": [0, 0.1, 0.2, 0.3, 0.4, 0.5], "format": ".1f", "title": null}},
          "y": {"field": "DOC", "type": "quantitative", "scale": {"domain": [-0.2, 5], "nice": false, "zero": false}, "axis": {"values": [0, 1, 2, 3, 4, 5], "format": "d", "title": null}}
        }
      }
    ]
  }]
}]
}
